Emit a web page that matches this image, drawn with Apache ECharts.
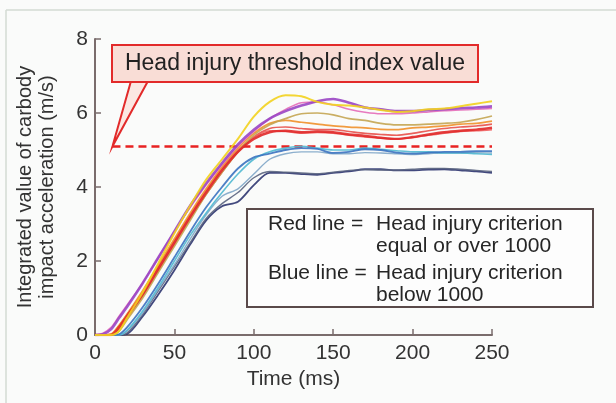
<!DOCTYPE html>
<html><head><meta charset="utf-8">
<script src="https://cdn.jsdelivr.net/npm/echarts@6/dist/echarts.min.js"></script>
<style>html,body{margin:0;padding:0;background:#fff}#c{width:616px;height:403px}</style>
</head><body><div id="c"></div>
<script>
// ---- data ----
const times = [0,5,10,15,20,30,40,50,60,70,80,90,100,110,120,130,140,150,160,170,180,190,200,210,220,230,240,250];
const xTicks = [0,50,100,150,200,250];
const yTicks = [0,2,4,6,8];
const threshold = 5.1;
const thresholdStart = 11;

const navyRun   = [0,0,0,0,0.02,0.5,1.1,1.75,2.45,3.1,3.48,3.6,4.05,4.38,4.38,4.35,4.33,4.38,4.42,4.48,4.48,4.45,4.45,4.47,4.48,4.45,4.42,4.38];
const slateRun  = [0,0,0,0,0.05,0.55,1.2,1.85,2.5,3.15,3.55,3.85,4.25,4.42,4.4,4.38,4.36,4.4,4.45,4.47,4.46,4.46,4.48,4.5,4.5,4.48,4.45,4.42];
const steelRun  = [0,0,0,0,0.1,0.6,1.25,1.9,2.6,3.25,3.75,3.95,4.35,4.75,4.9,4.95,4.95,4.9,4.9,4.93,4.92,4.9,4.88,4.9,4.92,4.92,4.93,4.92];
const cyanRun   = [0,0,0,0,0.12,0.65,1.3,2.0,2.7,3.3,3.85,4.35,4.75,4.95,5.05,5.1,5.05,5.0,5.0,5.05,5.02,4.98,4.95,4.95,4.92,4.92,4.9,4.88];
const blueRun   = [0,0,0,0.02,0.2,0.75,1.4,2.1,2.8,3.45,4.0,4.5,4.8,4.9,5.0,5.05,5.03,4.92,4.95,5.02,5.0,4.93,4.9,4.93,4.95,4.95,4.97,4.97];
const red3Run   = [0,0,0,0.15,0.45,1.05,1.75,2.45,3.15,3.8,4.4,4.95,5.35,5.58,5.62,5.58,5.55,5.55,5.5,5.45,5.42,5.4,5.45,5.52,5.58,5.62,5.65,5.7];
const red2Run   = [0,0,0.02,0.25,0.55,1.15,1.85,2.55,3.25,3.9,4.5,5.0,5.35,5.52,5.5,5.45,5.47,5.45,5.4,5.35,5.32,5.3,5.33,5.4,5.45,5.5,5.52,5.55];
const orangeRun = [0,0,0.02,0.25,0.55,1.2,1.9,2.6,3.3,3.95,4.55,5.05,5.45,5.72,5.8,5.75,5.7,5.65,5.62,5.6,5.56,5.55,5.6,5.62,5.65,5.7,5.72,5.78];
const oliveRun  = [0,0,0,0.1,0.4,1.0,1.7,2.4,3.1,3.8,4.4,4.95,5.4,5.68,5.85,5.98,6.0,5.95,5.85,5.8,5.72,5.68,5.68,5.7,5.72,5.75,5.82,5.92];
const red1Run   = [0,0,0,0.2,0.5,1.1,1.8,2.5,3.2,3.85,4.45,4.95,5.3,5.48,5.52,5.48,5.5,5.48,5.42,5.38,5.33,5.3,5.35,5.42,5.48,5.52,5.55,5.6];
const pinkRun   = [0,0.05,0.2,0.5,0.8,1.4,2.1,2.8,3.45,4.05,4.6,5.1,5.5,5.85,6.1,6.28,6.3,6.22,6.1,6.02,5.98,5.98,6.0,6.03,6.06,6.08,6.1,6.12];
const purpleRun = [0,0.02,0.15,0.45,0.75,1.4,2.1,2.8,3.5,4.1,4.65,5.15,5.55,5.85,6.05,6.2,6.32,6.38,6.28,6.15,6.1,6.05,6.05,6.08,6.1,6.13,6.15,6.18];
const yellowRun = [0,0,0,0.1,0.45,1.15,1.95,2.75,3.5,4.2,4.75,5.3,5.9,6.3,6.48,6.45,6.3,6.22,6.2,6.15,6.08,6.03,6.05,6.1,6.12,6.18,6.25,6.32];

const runNames  = ['navy','slate','steel','cyan','blue','red3','red2','orange','olive','red1','pink','purple','yellow'];
const runValues = [navyRun,slateRun,steelRun,cyanRun,blueRun,red3Run,red2Run,orangeRun,oliveRun,red1Run,pinkRun,purpleRun,yellowRun];
const runColors = ['#2e3570','#5a6480','#7fa6c8','#4fb8d0','#3a72c0','#e8504a','#f06060','#f0902a','#c4a552','#e02828','#e46cb8','#9a46c4','#f2d21e'];
const runWidths = [1.8,1.4,1.4,1.6,1.8,1.6,1.5,1.7,1.7,2.4,1.5,2.6,2.0];

const boxTitle = 'Head injury threshold index value';
const noteLines = ['Red line = ','Head injury criterion','equal or over 1000','Blue line = ','Head injury criterion','below 1000'];

// ---- chart ----
const FONT = "'Liberation Sans', Arial, Helvetica, sans-serif";
const chart = echarts.init(document.getElementById('c'));
const axisColor = '#7a6c6c';
const series = runValues.map((vals, i) => ({
  name: runNames[i], type: 'line', showSymbol: false, symbol: 'none', smooth: 0.3,
  silent: true, z: 2 + i,
  lineStyle: {color: runColors[i], width: runWidths[i], opacity: 0.9},
  data: times.map((t, k) => [t, vals[k]])
}));
series.push({
  name: 'threshold', type: 'line', data: [], silent: true, z: 30,
  markLine: {silent: true, symbol: 'none', label: {show: false},
    lineStyle: {color: '#e82222', width: 2.6, type: [8, 5]},
    data: [[{coord: [thresholdStart, threshold]}, {coord: [xTicks[xTicks.length-1], threshold]}]]}
});

chart.setOption({
  backgroundColor: '#fafbfa',
  animation: false,
  textStyle: {fontFamily: FONT},
  grid: {left: 95, right: 124, top: 39, bottom: 68},
  xAxis: {type: 'value', min: xTicks[0], max: xTicks[xTicks.length-1], interval: 50,
    name: 'Time (ms)', nameLocation: 'middle', nameGap: 29,
    nameTextStyle: {fontSize: 21, color: '#333', fontFamily: FONT},
    axisLine: {show: true, lineStyle: {color: axisColor, width: 2}},
    axisTick: {show: true, inside: true, length: 6, lineStyle: {color: axisColor, width: 1.5}},
    axisLabel: {fontSize: 21, color: '#333', margin: 8, fontFamily: FONT},
    splitLine: {show: false}},
  yAxis: {type: 'value', min: yTicks[0], max: yTicks[yTicks.length-1], interval: 2,
    name: 'Integrated value of carbody\nimpact acceleration (m/s)', nameLocation: 'middle', nameGap: 37, nameRotate: 90,
    nameTextStyle: {fontSize: 20, lineHeight: 22, color: '#333', fontFamily: FONT},
    axisLine: {show: true, lineStyle: {color: axisColor, width: 2}},
    axisTick: {show: true, inside: true, length: 6, lineStyle: {color: axisColor, width: 1.5}},
    axisLabel: {fontSize: 21, color: '#333', margin: 7, padding: [8, 0, 0, 0], fontFamily: FONT},
    splitLine: {show: false}},
  series: series
});

const tip = chart.convertToPixel({gridIndex: 0}, [thresholdStart, threshold]);
const txt = (x, y, s, size, align) => ({type: 'text', x: x, y: y, z: 100,
  style: {text: s, fontSize: size, fontFamily: FONT, fill: '#262626', align: align || 'left', verticalAlign: 'middle'}});
chart.setOption({
  graphic: [
    {type: 'line', shape: {x1: 6, y1: 10, x2: 616, y2: 10}, style: {stroke: '#d3dbd3', lineWidth: 1.5}, z: 100},
    {type: 'line', shape: {x1: 6, y1: 10, x2: 6, y2: 403}, style: {stroke: '#d3dbd3', lineWidth: 1.5}, z: 100},
    {type: 'polygon', shape: {points: [[131, 81], [tip[0], tip[1]], [148, 81]]}, style: {fill: '#fbe7e2', stroke: '#e22a2a', lineWidth: 2}, z: 100},
    {type: 'rect', shape: {x: 112, y: 45, width: 366, height: 37}, style: {fill: '#f9ddd6', stroke: '#e22a2a', lineWidth: 2}, z: 101},
    {type: 'text', x: 295, y: 64, z: 102, style: {text: boxTitle, fontSize: 23, fontFamily: FONT, fill: '#222', align: 'center', verticalAlign: 'middle'}},
    {type: 'rect', shape: {x: 247, y: 209, width: 346, height: 98}, style: {fill: '#fdfdfd', stroke: '#5a4a4a', lineWidth: 2}, z: 100},
    txt(268, 224, noteLines[0], 21), txt(376, 224, noteLines[1], 21), txt(376, 246, noteLines[2], 21),
    txt(268, 273, noteLines[3], 21), txt(376, 273, noteLines[4], 21), txt(376, 295, noteLines[5], 21)
  ]
});
</script>
</body></html>
